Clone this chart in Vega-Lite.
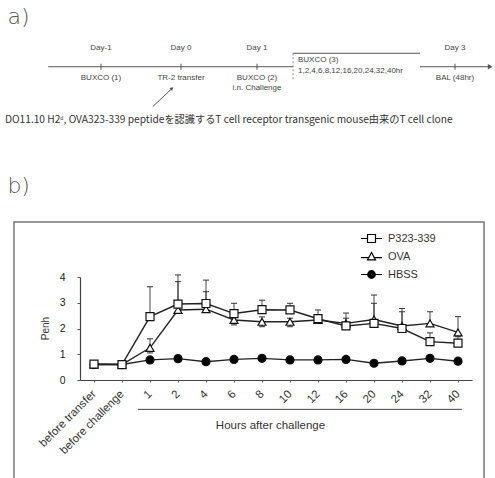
{
  "$schema": "https://vega.github.io/schema/vega-lite/v6.json",
  "width": 495,
  "height": 478,
  "padding": 0,
  "autosize": {"type": "none"},
  "background": "white",
  "config": {"view": {"stroke": null}},
  "datasets": {
    "penh": [
      {"series": "HBSS", "time": "before transfer", "idx": 0, "mean": 0.6},
      {"series": "HBSS", "time": "before challenge", "idx": 1, "mean": 0.6},
      {"series": "HBSS", "time": "1", "idx": 2, "mean": 0.78},
      {"series": "HBSS", "time": "2", "idx": 3, "mean": 0.83},
      {"series": "HBSS", "time": "4", "idx": 4, "mean": 0.71},
      {"series": "HBSS", "time": "6", "idx": 5, "mean": 0.8},
      {"series": "HBSS", "time": "8", "idx": 6, "mean": 0.84},
      {"series": "HBSS", "time": "10", "idx": 7, "mean": 0.78},
      {"series": "HBSS", "time": "12", "idx": 8, "mean": 0.78},
      {"series": "HBSS", "time": "16", "idx": 9, "mean": 0.8},
      {"series": "HBSS", "time": "20", "idx": 10, "mean": 0.65},
      {"series": "HBSS", "time": "24", "idx": 11, "mean": 0.74},
      {"series": "HBSS", "time": "32", "idx": 12, "mean": 0.84},
      {"series": "HBSS", "time": "40", "idx": 13, "mean": 0.73},
      {"series": "OVA", "time": "before transfer", "idx": 0, "mean": 0.6},
      {"series": "OVA", "time": "before challenge", "idx": 1, "mean": 0.6},
      {"series": "OVA", "time": "1", "idx": 2, "mean": 1.25, "lo": 1.05, "hi": 1.6},
      {"series": "OVA", "time": "2", "idx": 3, "mean": 2.72, "lo": 2.72, "hi": 3.82},
      {"series": "OVA", "time": "4", "idx": 4, "mean": 2.75, "lo": 2.75, "hi": 3.43},
      {"series": "OVA", "time": "6", "idx": 5, "mean": 2.33, "lo": 2.14, "hi": 2.6},
      {"series": "OVA", "time": "8", "idx": 6, "mean": 2.26, "lo": 2.07, "hi": 2.45},
      {"series": "OVA", "time": "10", "idx": 7, "mean": 2.26, "lo": 2.07, "hi": 2.4},
      {"series": "OVA", "time": "12", "idx": 8, "mean": 2.33, "lo": 2.33, "hi": 2.5},
      {"series": "OVA", "time": "16", "idx": 9, "mean": 2.2, "lo": 2.2, "hi": 2.4},
      {"series": "OVA", "time": "20", "idx": 10, "mean": 2.35, "lo": 2.35, "hi": 2.98},
      {"series": "OVA", "time": "24", "idx": 11, "mean": 2.1, "lo": 2.1, "hi": 2.65},
      {"series": "OVA", "time": "32", "idx": 12, "mean": 2.2, "lo": 2.2, "hi": 2.65},
      {"series": "OVA", "time": "40", "idx": 13, "mean": 1.85, "lo": 1.85, "hi": 2.46},
      {"series": "P323-339", "time": "before transfer", "idx": 0, "mean": 0.62},
      {"series": "P323-339", "time": "before challenge", "idx": 1, "mean": 0.6},
      {"series": "P323-339", "time": "1", "idx": 2, "mean": 2.46, "lo": 2.46, "hi": 3.62},
      {"series": "P323-339", "time": "2", "idx": 3, "mean": 2.95, "lo": 2.95, "hi": 4.08},
      {"series": "P323-339", "time": "4", "idx": 4, "mean": 2.97, "lo": 2.97, "hi": 3.88},
      {"series": "P323-339", "time": "6", "idx": 5, "mean": 2.58, "lo": 2.58, "hi": 2.98},
      {"series": "P323-339", "time": "8", "idx": 6, "mean": 2.73, "lo": 2.73, "hi": 3.1},
      {"series": "P323-339", "time": "10", "idx": 7, "mean": 2.72, "lo": 2.72, "hi": 2.98},
      {"series": "P323-339", "time": "12", "idx": 8, "mean": 2.38, "lo": 2.38, "hi": 2.72},
      {"series": "P323-339", "time": "16", "idx": 9, "mean": 2.1, "lo": 2.1, "hi": 2.6},
      {"series": "P323-339", "time": "20", "idx": 10, "mean": 2.2, "lo": 2.2, "hi": 3.3},
      {"series": "P323-339", "time": "24", "idx": 11, "mean": 2.0, "lo": 2.0, "hi": 2.78},
      {"series": "P323-339", "time": "32", "idx": 12, "mean": 1.49, "lo": 1.49, "hi": 1.83},
      {"series": "P323-339", "time": "40", "idx": 13, "mean": 1.43, "lo": 1.43, "hi": 1.68}
    ],
    "frame": [
      {"idx": -2.857, "idx_end": 13.93, "mean": 6.136, "mean_end": -4.6}
    ],
    "bracket": [
      {"idx": 1.57, "idx_end": 13.14, "mean": -1.14}
    ],
    "day_ticks": [
      {"day": -1, "row": 5.56},
      {"day": 0, "row": 5.56},
      {"day": 1, "row": 5.56},
      {"day": 3, "row": 5.56}
    ],
    "day_labels": [
      {"day": -1, "row": 3.96, "text": "Day-1"},
      {"day": 0, "row": 3.96, "text": "Day 0"},
      {"day": 1, "row": 3.96, "text": "Day 1"},
      {"day": 3, "row": 3.96, "text": "Day 3"}
    ],
    "event_labels": [
      {"day": -1, "row": 6.2, "text": "BUXCO (1)"},
      {"day": 0, "row": 6.2, "text": "TR-2 transfer"},
      {"day": 1, "row": 6.2, "text": "BUXCO (2)\ni.n. Challenge"},
      {"day": 3, "row": 6.2, "text": "BAL (48hr)"}
    ],
    "lines": [
      {"day": -1.66, "day_end": 1.364, "row": 5.56, "row_end": 5.56},
      {"day": 1.364, "day_end": 2.646, "row": 4.44, "row_end": 4.44},
      {"day": 2.646, "day_end": 3.42, "row": 5.56, "row_end": 5.56},
      {"day": -0.354, "day_end": -0.12, "row": 8.89, "row_end": 7.42}
    ],
    "box_edge": [
      {"day": 1.364, "day_end": 1.364, "row": 4.44, "row_end": 6.6}
    ],
    "block": [
      {"day": 1.414, "row": 4.67, "text": "BUXCO (3)\n1,2,4,6,8,12,16,20,24,32,40hr"}
    ],
    "panels": [
      {"label": "a)", "day": -2.17, "row": 1.42},
      {"label": "b)", "day": -2.17, "row": 15.5}
    ],
    "note": [
      {"day": -2.2, "row": 10.0, "text": "DO11.10 H2ᵈ, OVA323-339 peptideを認識するT cell receptor transgenic mouse由来のT cell clone"}
    ]
  },
  "resolve": {"scale": {"x": "independent", "y": "independent"}},
  "layer": [
    {
      "encoding": {
        "x": {"field": "day", "type": "quantitative", "scale": {"domain": [-2.2, -1, 0, 1, 3, 3.5], "range": [5, 101, 181, 257, 455, 495], "nice": false, "zero": false}, "axis": null},
        "y": {"field": "row", "type": "quantitative", "scale": {"domain": [0, 39.833], "range": [0, 478], "nice": false, "zero": false}, "axis": null}
      },
      "layer": [
        {
          "data": {"name": "lines"},
          "mark": {"type": "rule", "stroke": "#555", "strokeWidth": 1},
          "encoding": {"x2": {"field": "day_end"}, "y2": {"field": "row_end"}}
        },
        {
          "data": {"name": "box_edge"},
          "mark": {"type": "rule", "stroke": "#888", "strokeWidth": 1, "strokeDash": [2, 2]},
          "encoding": {"x2": {"field": "day_end"}, "y2": {"field": "row_end"}}
        },
        {
          "data": {"values": [{"day": 3.44, "row": 5.56}]},
          "mark": {"type": "point", "shape": "triangle-right", "filled": true, "size": 30, "color": "#555", "opacity": 1}
        },
        {
          "data": {"values": [{"day": -0.112, "row": 7.36}]},
          "mark": {"type": "point", "shape": "triangle-up", "angle": 47, "filled": true, "size": 16, "color": "#555", "opacity": 1}
        },
        {
          "data": {"name": "day_ticks"},
          "mark": {"type": "tick", "orient": "vertical", "size": 6, "thickness": 1, "color": "#555", "opacity": 1}
        },
        {
          "data": {"name": "day_labels"},
          "mark": {"type": "text", "font": "Liberation Sans", "fontSize": 8, "color": "#444", "align": "center", "baseline": "middle"},
          "encoding": {"text": {"field": "text"}}
        },
        {
          "data": {"name": "event_labels"},
          "mark": {"type": "text", "font": "Liberation Sans", "fontSize": 8, "color": "#444", "align": "center", "baseline": "top", "lineBreak": "\n", "lineHeight": 10},
          "encoding": {"text": {"field": "text"}}
        },
        {
          "data": {"name": "block"},
          "mark": {"type": "text", "font": "Liberation Sans", "fontSize": 8, "color": "#444", "align": "left", "baseline": "top", "lineBreak": "\n", "lineHeight": 11},
          "encoding": {"text": {"field": "text"}}
        },
        {
          "data": {"name": "panels"},
          "mark": {"type": "text", "font": "DejaVu Sans", "fontSize": 22, "fontWeight": 300, "color": "#555", "align": "left", "baseline": "middle"},
          "encoding": {"text": {"field": "label"}}
        },
        {
          "data": {"name": "note"},
          "mark": {"type": "text", "font": "Noto Sans CJK JP", "fontSize": 10.2, "color": "#333", "align": "left", "baseline": "middle"},
          "encoding": {"text": {"field": "text"}}
        }
      ]
    },
    {
      "data": {"name": "penh"},
      "resolve": {"scale": {"shape": "independent"}},
      "encoding": {
        "x": {
          "field": "idx", "type": "quantitative",
          "scale": {"domain": [-0.5, 13.5], "range": [80, 472], "nice": false, "zero": false},
          "axis": {
            "orient": "bottom", "offset": -98, "values": [0, 1, 2, 3, 4, 5, 6, 7, 8, 9, 10, 11, 12, 13],
            "labelExpr": "['before transfer','before challenge','1','2','4','6','8','10','12','16','20','24','32','40'][datum.value]",
            "labelAngle": -45, "labelAlign": "right", "labelBaseline": "middle", "labelPadding": 10,
            "labelFont": "Liberation Sans", "labelFontSize": 11.5, "labelColor": "#333",
            "labelOverlap": false, "labelBound": false, "labelFlush": false,
            "tickSize": 2, "tickColor": "#555", "domainColor": "#444", "domainWidth": 1.2, "grid": false,
            "title": "Hours after challenge", "titleFont": "Liberation Sans", "titleFontSize": 11.5, "titleFontWeight": "normal", "titleColor": "#333",
            "titleX": 270, "titleY": 45, "titleAlign": "center", "titleBaseline": "middle", "titleAngle": 0
          }
        },
        "y": {
          "field": "mean", "type": "quantitative",
          "scale": {"domain": [0, 4], "range": [380, 277], "nice": false, "zero": false},
          "axis": {
            "orient": "left", "offset": -80, "values": [0, 1, 2, 3, 4], "format": "d",
            "labelFont": "Liberation Sans", "labelFontSize": 10.5, "labelColor": "#222", "labelPadding": 12,
            "tickSize": 3, "tickColor": "#555", "domainColor": "#444", "domainWidth": 1.2, "grid": false,
            "title": "Penh", "titleFont": "Liberation Sans", "titleFontSize": 10, "titleFontWeight": "normal", "titleColor": "#333",
            "titleX": -35, "titleY": 328, "titleAngle": -90, "titleAlign": "center", "titleBaseline": "middle"
          }
        }
      },
      "layer": [
        {
          "data": {"name": "frame"},
          "mark": {"type": "rect", "fill": "transparent", "stroke": "#777", "strokeWidth": 1.5},
          "encoding": {"x2": {"field": "idx_end"}, "y2": {"field": "mean_end"}}
        },
        {
          "data": {"name": "bracket"},
          "mark": {"type": "rule", "stroke": "#444", "strokeWidth": 1},
          "encoding": {"x2": {"field": "idx_end"}}
        },
        {
          "transform": [{"filter": "isValid(datum.hi)"}],
          "mark": {"type": "rule", "stroke": "#333", "strokeWidth": 0.9},
          "encoding": {
            "y": {
              "field": "lo", "type": "quantitative",
              "scale": {"domain": [0, 4], "range": [380, 277], "nice": false, "zero": false},
              "axis": {
                "orient": "left", "offset": -80, "values": [0, 1, 2, 3, 4], "format": "d",
                "labelFont": "Liberation Sans", "labelFontSize": 10.5, "labelColor": "#222", "labelPadding": 12,
                "tickSize": 3, "tickColor": "#555", "domainColor": "#444", "domainWidth": 1.2, "grid": false,
                "title": "Penh", "titleFont": "Liberation Sans", "titleFontSize": 10, "titleFontWeight": "normal", "titleColor": "#333",
                "titleX": -35, "titleY": 328, "titleAngle": -90, "titleAlign": "center", "titleBaseline": "middle"
              }
            },
            "y2": {"field": "hi"}
          }
        },
        {
          "transform": [{"filter": "isValid(datum.hi)"}],
          "mark": {"type": "tick", "orient": "horizontal", "size": 6, "thickness": 1, "color": "#333", "opacity": 1},
          "encoding": {
            "y": {
              "field": "hi", "type": "quantitative",
              "scale": {"domain": [0, 4], "range": [380, 277], "nice": false, "zero": false},
              "axis": {
                "orient": "left", "offset": -80, "values": [0, 1, 2, 3, 4], "format": "d",
                "labelFont": "Liberation Sans", "labelFontSize": 10.5, "labelColor": "#222", "labelPadding": 12,
                "tickSize": 3, "tickColor": "#555", "domainColor": "#444", "domainWidth": 1.2, "grid": false,
                "title": "Penh", "titleFont": "Liberation Sans", "titleFontSize": 10, "titleFontWeight": "normal", "titleColor": "#333",
                "titleX": -35, "titleY": 328, "titleAngle": -90, "titleAlign": "center", "titleBaseline": "middle"
              }
            }
          }
        },
        {
          "transform": [{"filter": "isValid(datum.lo) && datum.lo < datum.mean"}],
          "mark": {"type": "tick", "orient": "horizontal", "size": 6, "thickness": 1, "color": "#333", "opacity": 1},
          "encoding": {
            "y": {
              "field": "lo", "type": "quantitative",
              "scale": {"domain": [0, 4], "range": [380, 277], "nice": false, "zero": false},
              "axis": {
                "orient": "left", "offset": -80, "values": [0, 1, 2, 3, 4], "format": "d",
                "labelFont": "Liberation Sans", "labelFontSize": 10.5, "labelColor": "#222", "labelPadding": 12,
                "tickSize": 3, "tickColor": "#555", "domainColor": "#444", "domainWidth": 1.2, "grid": false,
                "title": "Penh", "titleFont": "Liberation Sans", "titleFontSize": 10, "titleFontWeight": "normal", "titleColor": "#333",
                "titleX": -35, "titleY": 328, "titleAngle": -90, "titleAlign": "center", "titleBaseline": "middle"
              }
            }
          }
        },
        {
          "mark": {"type": "line", "stroke": "#222", "strokeWidth": 1.4},
          "encoding": {"detail": {"field": "series", "type": "nominal"}}
        },
        {
          "mark": {"type": "point", "filled": true, "size": 64, "stroke": "#111", "strokeWidth": 1.2, "opacity": 1},
          "encoding": {
            "shape": {"field": "series", "type": "nominal", "scale": {"domain": ["P323-339", "OVA", "HBSS"], "range": ["square", "triangle-up", "circle"]}, "legend": null},
            "fill": {"field": "series", "type": "nominal", "scale": {"domain": ["P323-339", "OVA", "HBSS"], "range": ["white", "white", "black"]}, "legend": null}
          }
        },
        {
          "transform": [{"filter": "datum.idx < -100"}],
          "mark": {"type": "point", "filled": false, "color": "black", "strokeWidth": 1.2, "opacity": 1},
          "encoding": {
            "shape": {
              "field": "series", "type": "nominal",
              "scale": {
                "domain": ["P323-339", "OVA", "HBSS"],
                "range": [
                  "M-1,0H-0.38M0.38,0H1M-0.38,-0.38H0.38V0.38H-0.38Z",
                  "M-1,0.1H-0.26M0.26,0.1H1M0,-0.38L0.38,0.32H-0.38Z",
                  "M-1,0H-0.36M0.36,0H1M0.36,0A0.36,0.36,0,1,1,-0.36,0A0.36,0.36,0,1,1,0.36,0ZM0.27,0A0.27,0.27,0,1,1,-0.27,0A0.27,0.27,0,1,1,0.27,0ZM0.18,0A0.18,0.18,0,1,1,-0.18,0A0.18,0.18,0,1,1,0.18,0ZM0.09,0A0.09,0.09,0,1,1,-0.09,0A0.09,0.09,0,1,1,0.09,0Z"
                ]
              },
              "legend": {
                "orient": "none", "legendX": 360, "legendY": 227, "title": null, "padding": 0,
                "symbolSize": 441, "symbolStrokeWidth": 1.2, "symbolStrokeColor": "black", "symbolFillColor": "white", "symbolOpacity": 1,
                "labelFont": "Liberation Sans", "labelFontSize": 11, "labelColor": "#333", "labelOffset": 5, "rowPadding": 0
              }
            }
          }
        }
      ]
    }
  ]
}
